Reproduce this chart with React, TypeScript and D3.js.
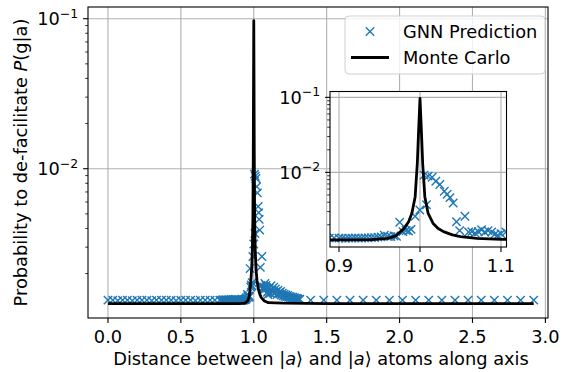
import React from "react";
import * as d3 from "d3";

// GNN prediction (blue crosses)
const gnnLeftX = [0, 0.033, 0.067, 0.1, 0.133, 0.167, 0.2, 0.233, 0.267, 0.3, 0.333, 0.367, 0.4, 0.433, 0.467, 0.5, 0.533, 0.567, 0.6, 0.633, 0.667, 0.7, 0.733, 0.767];
const gnnLeftY = [1.33e-3, 1.33e-3, 1.32e-3, 1.33e-3, 1.33e-3, 1.32e-3, 1.33e-3, 1.33e-3, 1.33e-3, 1.32e-3, 1.33e-3, 1.33e-3, 1.33e-3, 1.33e-3, 1.32e-3, 1.33e-3, 1.33e-3, 1.33e-3, 1.32e-3, 1.33e-3, 1.33e-3, 1.33e-3, 1.33e-3, 1.33e-3];

const gnnNearX = [0.78, 0.786, 0.792, 0.798, 0.804, 0.81, 0.816, 0.822, 0.828, 0.834, 0.84, 0.846, 0.852, 0.858, 0.864, 0.87, 0.876, 0.882, 0.888, 0.894];
const gnnNearY = [1.33e-3, 1.32e-3, 1.34e-3, 1.33e-3, 1.33e-3, 1.34e-3, 1.32e-3, 1.33e-3, 1.34e-3, 1.33e-3, 1.33e-3, 1.34e-3, 1.33e-3, 1.34e-3, 1.33e-3, 1.35e-3, 1.33e-3, 1.34e-3, 1.33e-3, 1.34e-3];

const gnnPeakX = [0.9, 0.904, 0.908, 0.912, 0.916, 0.92, 0.924, 0.928, 0.932, 0.936, 0.94, 0.944, 0.948, 0.952, 0.956, 0.96, 0.964, 0.968, 0.971, 0.975, 0.979, 0.983, 0.986, 0.989, 0.994, 0.9998, 1.005, 1.008, 1.01, 1.015, 1.0195, 1.0245, 1.03, 1.0335, 1.037, 1.041, 1.045, 1.049, 1.0555, 1.06, 1.064, 1.068, 1.072, 1.076, 1.08, 1.084, 1.0885, 1.0925, 1.096];
const gnnPeakY = [1.33e-3, 1.33e-3, 1.32e-3, 1.33e-3, 1.33e-3, 1.34e-3, 1.33e-3, 1.33e-3, 1.34e-3, 1.34e-3, 1.35e-3, 1.35e-3, 1.37e-3, 1.38e-3, 1.45e-3, 1.41e-3, 1.39e-3, 1.42e-3, 1.4e-3, 2.16e-3, 1.62e-3, 1.68e-3, 1.65e-3, 1.74e-3, 2.6e-3, 3.15e-3, 9.2e-3, 3.7e-3, 8.9e-3, 8.6e-3, 7.6e-3, 6.9e-3, 5.6e-3, 5.1e-3, 4.6e-3, 3.9e-3, 2.2e-3, 1.67e-3, 2.6e-3, 1.6e-3, 1.62e-3, 1.55e-3, 1.62e-3, 1.72e-3, 1.6e-3, 1.67e-3, 1.6e-3, 1.5e-3, 1.45e-3];

const gnnTailX = [1.1, 1.106, 1.112, 1.118, 1.124, 1.13, 1.136, 1.142, 1.148, 1.154, 1.16, 1.166, 1.172, 1.178, 1.184, 1.19, 1.196, 1.202, 1.208, 1.214, 1.22, 1.226, 1.232, 1.238, 1.244, 1.25, 1.256, 1.262, 1.268, 1.274, 1.28, 1.286, 1.292, 1.298, 1.304, 1.31, 1.316];
const gnnTailY = [1.52e-3, 1.6e-3, 1.48e-3, 1.66e-3, 1.55e-3, 1.5e-3, 1.62e-3, 1.47e-3, 1.58e-3, 1.52e-3, 1.45e-3, 1.55e-3, 1.49e-3, 1.46e-3, 1.52e-3, 1.44e-3, 1.48e-3, 1.42e-3, 1.46e-3, 1.41e-3, 1.44e-3, 1.4e-3, 1.43e-3, 1.39e-3, 1.41e-3, 1.38e-3, 1.4e-3, 1.37e-3, 1.39e-3, 1.36e-3, 1.38e-3, 1.36e-3, 1.35e-3, 1.37e-3, 1.35e-3, 1.34e-3, 1.35e-3];

const gnnFarX = [1.39, 1.48, 1.57, 1.66, 1.75, 1.84, 1.93, 2.02, 2.11, 2.2, 2.29, 2.38, 2.47, 2.56, 2.65, 2.74, 2.83, 2.92];
const gnnFarY = [1.33e-3, 1.33e-3, 1.33e-3, 1.33e-3, 1.33e-3, 1.33e-3, 1.33e-3, 1.33e-3, 1.33e-3, 1.33e-3, 1.33e-3, 1.33e-3, 1.33e-3, 1.33e-3, 1.33e-3, 1.33e-3, 1.33e-3, 1.33e-3];

// Monte Carlo (black line)
const mcX = [0, 0.6, 0.8, 0.9, 0.94, 0.96, 0.97, 0.98, 0.986, 0.99, 0.994, 0.9967, 0.9983, 1.0, 1.0017, 1.0033, 1.006, 1.01, 1.016, 1.022, 1.029, 1.04, 1.05, 1.07, 1.1, 1.2, 1.5, 2.92];
const mcY = [1.26e-3, 1.26e-3, 1.26e-3, 1.26e-3, 1.27e-3, 1.32e-3, 1.42e-3, 1.78e-3, 2.2e-3, 2.85e-3, 4.7e-3, 0.0132, 0.036, 0.097, 0.036, 0.0132, 4.7e-3, 2.85e-3, 2.1e-3, 1.8e-3, 1.62e-3, 1.47e-3, 1.39e-3, 1.32e-3, 1.28e-3, 1.27e-3, 1.26e-3, 1.26e-3];

const mainXTicks = [0, 0.5, 1.0, 1.5, 2.0, 2.5, 3.0];
const insetXTicks = [0.9, 1.0, 1.1];
const yMajorTicks = [0.1, 0.01];
const yMajorLabels = ["\u22121", "\u22122"];
const yMinorTicks = [2e-3, 3e-3, 4e-3, 5e-3, 6e-3, 7e-3, 8e-3, 9e-3, 2e-2, 3e-2, 4e-2, 5e-2, 6e-2, 7e-2, 8e-2, 9e-2];
const legendLabels = ["GNN Prediction", "Monte Carlo"];

const gnnX = [...gnnLeftX, ...gnnNearX, ...gnnPeakX, ...gnnTailX, ...gnnFarX];
const gnnY = [...gnnLeftY, ...gnnNearY, ...gnnPeakY, ...gnnTailY, ...gnnFarY];

const FONT = "DejaVu Sans, sans-serif";
const FS = 17.8;
const BLUE = "#1f77b4";
const GRID = "#b0b0b0";

function Cross({ x, y }) {
  const s = 4.2;
  return <path d={`M${x - s},${y - s}L${x + s},${y + s}M${x - s},${y + s}L${x + s},${y - s}`} stroke={BLUE} strokeWidth={1.4} fill="none" />;
}

function Panel({ id, box, xDomain, xTicks }) {
  const x = d3.scaleLinear().domain(xDomain).range([box.l, box.r]);
  const y = d3.scaleLog().domain([10 ** -2.995, 10 ** -0.922]).range([box.b, box.t]);
  const line = d3.line<number>().x((d, i) => x(mcX[i])).y((d) => y(d));
  const fmt = d3.format(".1f");
  return (
    <g>
      <defs>
        <clipPath id={id}>
          <rect x={box.l} y={box.t} width={box.r - box.l} height={box.b - box.t} />
        </clipPath>
      </defs>
      <rect x={box.l} y={box.t} width={box.r - box.l} height={box.b - box.t} fill="white" />
      {xTicks.map((t) => (
        <line key={"gx" + t} x1={x(t)} x2={x(t)} y1={box.t} y2={box.b} stroke={GRID} strokeWidth={1.1} />
      ))}
      {yMajorTicks.map((t) => (
        <line key={"gy" + t} x1={box.l} x2={box.r} y1={y(t)} y2={y(t)} stroke={GRID} strokeWidth={1.1} />
      ))}
      <g clipPath={`url(#${id})`}>
        {gnnX.map((d, i) => (
          <Cross key={i} x={x(d)} y={y(gnnY[i])} />
        ))}
        <path d={line(mcY) || ""} fill="none" stroke="black" strokeWidth={2.8} strokeLinejoin="round" />
      </g>
      <rect x={box.l} y={box.t} width={box.r - box.l} height={box.b - box.t} fill="none" stroke="black" strokeWidth={1.1} />
      {xTicks.map((t) => (
        <g key={"tx" + t}>
          <line x1={x(t)} x2={x(t)} y1={box.b} y2={box.b + 4.9} stroke="black" strokeWidth={1.1} />
          <text x={x(t)} y={box.b + 24.5} textAnchor="middle" fontFamily={FONT} fontSize={FS}>
            {fmt(t)}
          </text>
        </g>
      ))}
      {yMinorTicks.map((t) => (
        <line key={"my" + t} x1={box.l - 2.8} x2={box.l} y1={y(t)} y2={y(t)} stroke="black" strokeWidth={0.8} />
      ))}
      {yMajorTicks.map((t, i) => (
        <g key={"ty" + t}>
          <line x1={box.l - 4.9} x2={box.l} y1={y(t)} y2={y(t)} stroke="black" strokeWidth={1.1} />
          <text x={box.l - 9.8} y={y(t) + 6.5} textAnchor="end" fontFamily={FONT} fontSize={FS}>
            10
            <tspan dy={-7.5} fontSize={FS * 0.7}>
              {yMajorLabels[i]}
            </tspan>
          </text>
        </g>
      ))}
    </g>
  );
}

export default function App() {
  const main = { l: 88, r: 548, t: 7, b: 318 };
  const inset = { l: 330, r: 506.5, t: 91.5, b: 247 };
  return (
    <svg width={564} height={372} style={{ position: "absolute", left: 0, top: 0 }}>
      <rect width={564} height={372} fill="white" />
      <Panel id="clipMain" box={main} xDomain={[-0.137, 3.018]} xTicks={mainXTicks} />
      <text x={321} y={365} textAnchor="middle" fontFamily={FONT} fontSize={FS}>
        Distance between |<tspan fontStyle="italic">a</tspan>{"\u27e9 and |"}
        <tspan fontStyle="italic">a</tspan>{"\u27e9 atoms along axis"}
      </text>
      <text transform={`translate(27,${(main.t + main.b) / 2}) rotate(-90)`} textAnchor="middle" fontFamily={FONT} fontSize={FS}>
        Probability to de-facilitate <tspan fontStyle="italic">P</tspan>(g|a)
      </text>
      {/* legend */}
      <g>
        <rect x={345} y={16} width={200} height={58} rx={4} fill="white" fillOpacity={0.8} stroke="#d0d0d0" strokeWidth={1} />
        <Cross x={370} y={31.5} />
        <line x1={351} x2={389} y1={57.5} y2={57.5} stroke="black" strokeWidth={2.8} />
        <text x={403} y={37.5} fontFamily={FONT} fontSize={FS}>
          {legendLabels[0]}
        </text>
        <text x={403} y={64} fontFamily={FONT} fontSize={FS}>
          {legendLabels[1]}
        </text>
      </g>
      <Panel id="clipInset" box={inset} xDomain={[0.8889, 1.1068]} xTicks={insetXTicks} />
    </svg>
  );
}
